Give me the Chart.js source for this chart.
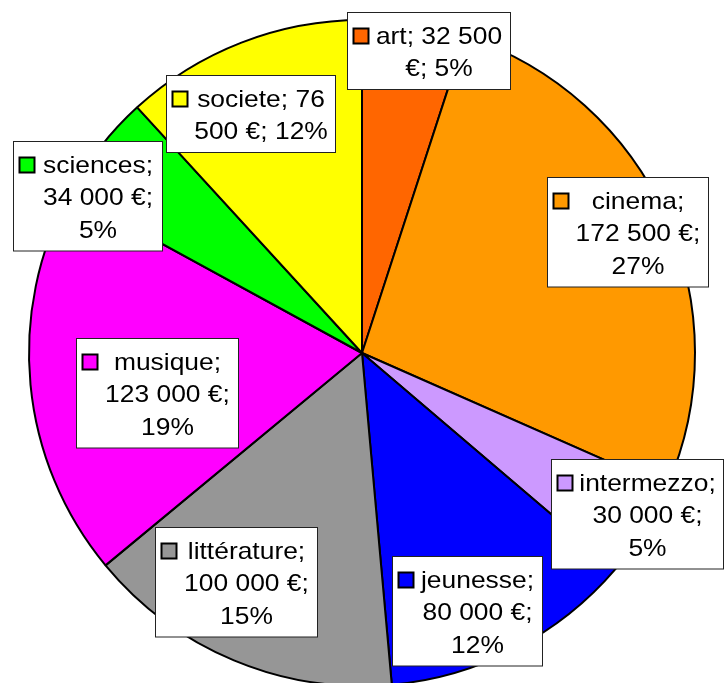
<!DOCTYPE html>
<html>
<head>
<meta charset="utf-8">
<script src="https://cdn.jsdelivr.net/npm/chart.js@4"></script>
<style>
  html, body { margin: 0; padding: 0; background: #fff; overflow: hidden; }
  canvas { display: block; }
</style>
</head>
<body>
<canvas id="myChart" width="724" height="706"></canvas>
<script>
const categories = ["art", "cinema", "intermezzo", "jeunesse", "littérature", "musique", "sciences", "societe"];
const montants = [32500, 172500, 30000, 80000, 100000, 123000, 34000, 76500];
const couleurs = ["#FF6600", "#FF9900", "#CC99FF", "#0000FF", "#969696", "#FF00FF", "#00FF00", "#FFFF00"];

// label boxes: width and nudge from the slice anchor
const largeurs = [163, 161, 172, 150, 162, 162, 149, 169];
const decalages = [[21, -16], [1, -3], [30, 7], [-28, 0], [-15, -39], [83, 12], [-47, 21], [-7, 31]];

const total = montants.reduce((a, b) => a + b, 0);
const ctx = document.getElementById("myChart");

function formatMontant(v) {
  return String(v).replace(/\B(?=(\d{3})+(?!\d))/g, " ");
}

const FONT = '24px "Liberation Sans", Arial, sans-serif';
const SX = 1.1;
const LH = 32.5;

function wrap(c, text, maxW) {
  const mots = text.split(" ");
  const lignes = [];
  let cur = "";
  mots.forEach((m) => {
    const test = cur ? cur + " " + m : m;
    if (c.measureText(test).width * SX > maxW && cur) {
      lignes.push(cur);
      cur = m;
    } else {
      cur = test;
    }
  });
  if (cur) lignes.push(cur);
  return lignes;
}

const etiquettes = {
  id: "etiquettes",
  afterDatasetsDraw(chart) {
    const c = chart.ctx;
    const meta = chart.getDatasetMeta(0);
    c.save();
    c.font = FONT;
    meta.data.forEach((arc, i) => {
      const mid = (arc.startAngle + arc.endAngle) / 2;
      const r = arc.outerRadius * 0.87;
      const ax = arc.x + Math.cos(mid) * r + decalages[i][0];
      const ay = arc.y + Math.sin(mid) * r + decalages[i][1];
      const pct = Math.round((montants[i] / total) * 100);
      const texte = `${categories[i]}; ${formatMontant(montants[i])} €; ${pct}%`;
      const w = largeurs[i];
      const lignes = wrap(c, texte, w - 30);
      const h = lignes.length * LH + 12;
      const bx = Math.round(ax - w / 2) + 0.5;
      const by = Math.round(ay - h / 2) + 0.5;

      c.fillStyle = "#fff";
      c.fillRect(bx, by, w, h);
      c.strokeStyle = "#222";
      c.lineWidth = 1;
      c.strokeRect(bx, by, w, h);

      const base0 = by + 6 + 25;
      // carré de légende
      c.fillStyle = couleurs[i];
      c.fillRect(bx + 6, base0 - 15, 15, 15);
      c.strokeStyle = "#000";
      c.lineWidth = 2;
      c.strokeRect(bx + 6, base0 - 15, 15, 15);

      c.fillStyle = "#000";
      c.textAlign = "center";
      c.textBaseline = "alphabetic";
      const cx = bx + 10 + w / 2;
      lignes.forEach((l, k) => {
        c.save();
        c.translate(cx, base0 + k * LH);
        c.scale(SX, 1);
        c.fillText(l, 0, 0);
        c.restore();
      });
    });
    c.restore();
  }
};

new Chart(ctx, {
  type: "pie",
  data: {
    labels: categories,
    datasets: [
      {
        data: montants,
        backgroundColor: couleurs,
        borderColor: "#000",
        borderWidth: 2,
      },
    ],
  },
  options: {
    responsive: false,
    animation: false,
    radius: 333,
    layout: { padding: 0 },
    plugins: {
      legend: { display: false },
      tooltip: { enabled: false },
    },
  },
  plugins: [etiquettes],
});
</script>
</body>
</html>
